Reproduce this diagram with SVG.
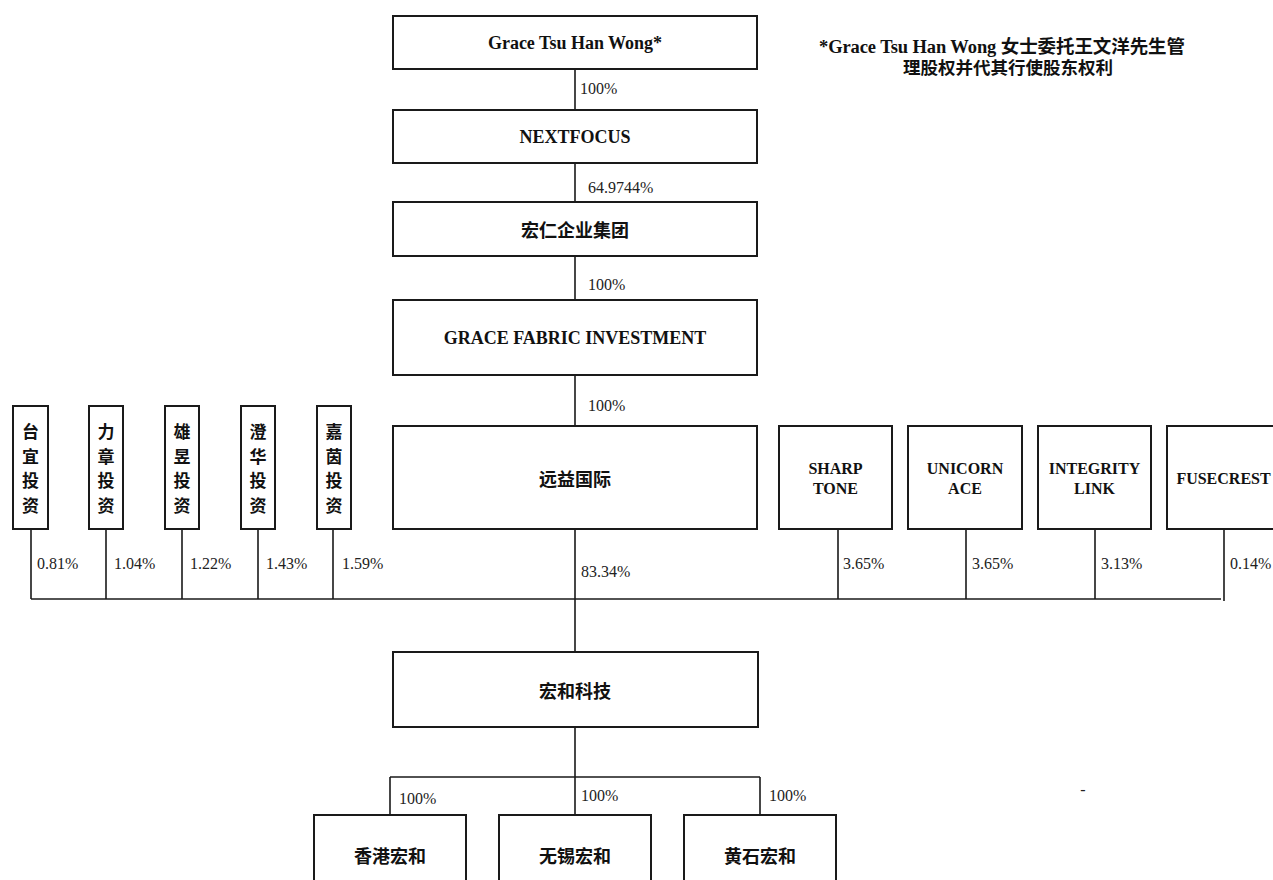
<svg xmlns="http://www.w3.org/2000/svg" width="1273" height="880" viewBox="0 0 1273 880">
<style>
.box{fill:#fff;stroke:#1a1a1a;stroke-width:2}
.ln{stroke:#1a1a1a;stroke-width:1.6;fill:none}
.en{font-family:"Liberation Serif","Times New Roman",serif;font-weight:bold;font-size:18px;fill:#111;text-anchor:middle;dominant-baseline:central}
.en16{font-family:"Liberation Serif","Times New Roman",serif;font-weight:bold;font-size:16px;fill:#111;text-anchor:middle;dominant-baseline:central}
.cn{font-family:"Noto Sans CJK SC","Noto Sans",sans-serif;font-weight:bold;font-size:18px;fill:#111;text-anchor:middle;dominant-baseline:central}
.cnv{font-family:"Noto Sans CJK SC","Noto Sans",sans-serif;font-weight:bold;font-size:17px;fill:#111;text-anchor:middle;dominant-baseline:central}
.pct{font-family:"Liberation Serif","Times New Roman",serif;font-size:16px;fill:#222}
.note{font-family:"Liberation Serif","Noto Sans CJK SC",serif;font-weight:bold;fill:#111;text-anchor:middle}
</style>
<rect width="1273" height="880" fill="#fff"/>
<g id="connectors">
<path class="ln" d="M575 69V110M575 163V202M575 256V300M575 375V426M575 529V652"/>
<path class="ln" d="M31 529V599M106 529V599M182 529V599M258 529V599M333 529V599"/>
<path class="ln" d="M838 529V599M966 529V599M1095 529V599M1224 529V601"/>
<path class="ln" d="M31 599H1221"/>
<path class="ln" d="M575 727V815M390 777H760M390 777V815M760 777V815"/>
<text class="pct" x="580" y="94">100%</text>
<text class="pct" x="588" y="193">64.9744%</text>
<text class="pct" x="588" y="290">100%</text>
<text class="pct" x="588" y="411">100%</text>
<text class="pct" x="581" y="577">83.34%</text>
<text class="pct" x="37" y="569">0.81%</text>
<text class="pct" x="114" y="569">1.04%</text>
<text class="pct" x="190" y="569">1.22%</text>
<text class="pct" x="266" y="569">1.43%</text>
<text class="pct" x="342" y="569">1.59%</text>
<text class="pct" x="843" y="569">3.65%</text>
<text class="pct" x="972" y="569">3.65%</text>
<text class="pct" x="1101" y="569">3.13%</text>
<text class="pct" x="1230" y="569">0.14%</text>
<text class="pct" x="399" y="804">100%</text>
<text class="pct" x="581" y="801">100%</text>
<text class="pct" x="769" y="801">100%</text>
</g>
<g id="note">
<text class="note" x="1002" y="53" font-size="18.5" textLength="366" lengthAdjust="spacing">*Grace Tsu Han Wong 女士委托王文洋先生管</text>
<text class="note" x="1008" y="74" font-size="17.5">理股权并代其行使股东权利</text>
<text class="pct" x="1083" y="795" text-anchor="middle">-</text>
</g>
<g id="n-grace"><rect class="box" x="393" y="16" width="364" height="53"/><text class="en" x="575" y="42.5">Grace Tsu Han Wong*</text></g>
<g id="n-nextfocus"><rect class="box" x="393" y="110" width="364" height="53"/><text class="en" x="575" y="136.5">NEXTFOCUS</text></g>
<g id="n-hongren"><rect class="box" x="393" y="202" width="364" height="54"/><text class="cn" x="575" y="229">宏仁企业集团</text></g>
<g id="n-gracefabric"><rect class="box" x="393" y="300" width="364" height="75"/><text class="en" x="575" y="337.5">GRACE FABRIC INVESTMENT</text></g>
<g id="n-yuanyi"><rect class="box" x="393" y="426" width="364" height="103"/><text class="cn" x="575" y="477.5">远益国际</text></g>
<g id="n-taiyi"><rect class="box" x="13" y="406" width="35" height="123"/><text class="cnv"><tspan x="30.5" y="430">台</tspan><tspan x="30.5" y="454.5">宜</tspan><tspan x="30.5" y="479">投</tspan><tspan x="30.5" y="503.5">资</tspan></text></g>
<g id="n-lizhang"><rect class="box" x="89" y="406" width="34" height="123"/><text class="cnv"><tspan x="106" y="430">力</tspan><tspan x="106" y="454.5">章</tspan><tspan x="106" y="479">投</tspan><tspan x="106" y="503.5">资</tspan></text></g>
<g id="n-xiongyu"><rect class="box" x="165" y="406" width="34" height="123"/><text class="cnv"><tspan x="182" y="430">雄</tspan><tspan x="182" y="454.5">昱</tspan><tspan x="182" y="479">投</tspan><tspan x="182" y="503.5">资</tspan></text></g>
<g id="n-chenghua"><rect class="box" x="241" y="406" width="34" height="123"/><text class="cnv"><tspan x="258" y="430">澄</tspan><tspan x="258" y="454.5">华</tspan><tspan x="258" y="479">投</tspan><tspan x="258" y="503.5">资</tspan></text></g>
<g id="n-jiayin"><rect class="box" x="317" y="406" width="34" height="123"/><text class="cnv"><tspan x="334" y="430">嘉</tspan><tspan x="334" y="454.5">茵</tspan><tspan x="334" y="479">投</tspan><tspan x="334" y="503.5">资</tspan></text></g>
<g id="n-sharptone"><rect class="box" x="779" y="426" width="113" height="103"/><text class="en16"><tspan x="835.5" y="468">SHARP</tspan><tspan x="835.5" y="488">TONE</tspan></text></g>
<g id="n-unicorn"><rect class="box" x="908" y="426" width="114" height="103"/><text class="en16"><tspan x="965" y="468">UNICORN</tspan><tspan x="965" y="488">ACE</tspan></text></g>
<g id="n-integrity"><rect class="box" x="1038" y="426" width="113" height="103"/><text class="en16"><tspan x="1094.5" y="468">INTEGRITY</tspan><tspan x="1094.5" y="488">LINK</tspan></text></g>
<g id="n-fusecrest"><rect class="box" x="1167" y="426" width="113" height="103"/><text class="en16" x="1223.5" y="478">FUSECREST</text></g>
<g id="n-honghe"><rect class="box" x="393" y="652" width="365" height="75"/><text class="cn" x="575" y="689.5">宏和科技</text></g>
<g id="n-hk"><rect class="box" x="314" y="815" width="152" height="90"/><text class="cn" x="390" y="855">香港宏和</text></g>
<g id="n-wuxi"><rect class="box" x="499" y="815" width="152" height="90"/><text class="cn" x="575" y="855">无锡宏和</text></g>
<g id="n-huangshi"><rect class="box" x="684" y="815" width="152" height="90"/><text class="cn" x="760" y="855">黄石宏和</text></g>
</svg>
